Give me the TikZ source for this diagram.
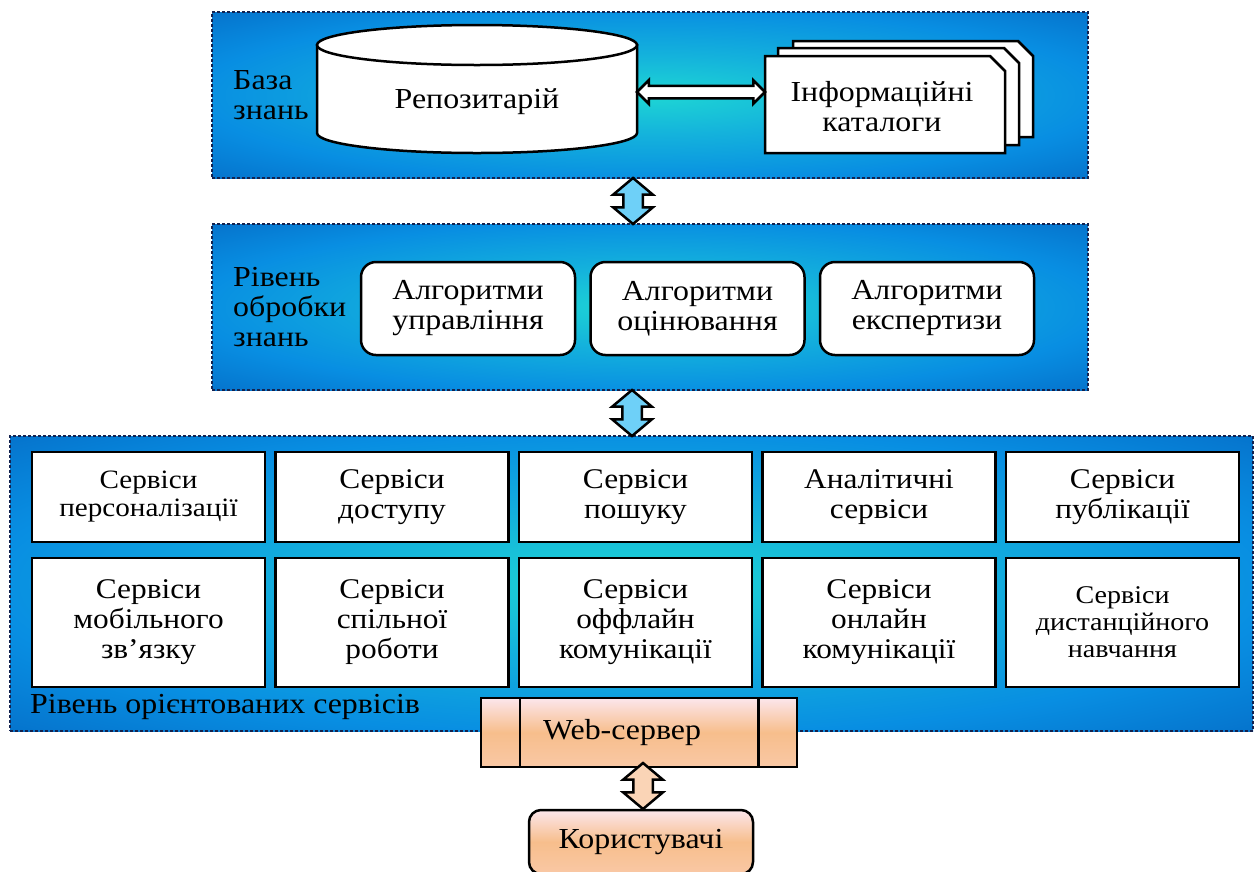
\documentclass[tikz,border=0pt]{standalone}
\usepackage{fontspec}
\setmainfont{Liberation Serif}[FakeStretch=1.1]
\usetikzlibrary{positioning, shapes.arrows, calc}

\definecolor{glowc}{RGB}{30,214,212}
\definecolor{glowcm}{RGB}{20,178,220}
\definecolor{glowm}{RGB}{8,142,226}
\definecolor{glowd}{RGB}{2,86,180}
\definecolor{framec}{RGB}{20,35,80}
\definecolor{arrowblue}{RGB}{110,208,248}
\definecolor{peachtop}{RGB}{252,230,236}
\definecolor{peachmid}{RGB}{247,190,140}
\definecolor{peachbot}{RGB}{249,200,165}
\definecolor{peacharrow}{RGB}{250,212,182}

\pgfdeclareradialshading{layerglow}{\pgfpoint{0bp}{0bp}}{color(0bp)=(glowc); color(12bp)=(glowcm); color(26bp)=(glowm); color(46bp)=(glowd); color(75bp)=(glowd)}

\begin{document}
\begin{tikzpicture}[
x=1pt, y=-1pt,
font=\fontsize{29}{30}\selectfont,
layer/.style={draw=framec, line width=1.2pt, dash pattern=on 3pt off 2pt, shade, shading=layerglow, inner sep=0pt},
algo/.style={draw, line width=2.5pt, fill=white, rounded corners=15pt, minimum width=214pt, minimum height=93pt, align=center},
serv/.style={draw, line width=2.5pt, fill=white, minimum width=233pt, inner sep=0pt, align=center, font=\fontsize{28.5}{30}\selectfont},
pageline/.style={draw, line width=2.5pt, fill=white},
link/.style={double arrow, draw, line width=2.5pt, inner xsep=0pt, inner ysep=8.5pt, double arrow head extend=10pt, double arrow tip angle=100, minimum width=37pt, minimum height=46pt, rotate=90},
peach/.style={draw, line width=2.5pt, top color=peachtop, bottom color=peachbot, middle color=peachmid}
]
\useasboundingbox (0,0) rectangle (1257,871);

% layers
\node[layer, minimum width=876pt, minimum height=166pt] (kb) at (650,95) {};
\node[layer, minimum width=876pt, minimum height=166pt] (proc) at (650,307) {};
\node[layer, minimum width=1243pt, minimum height=295pt] (srv) at (631.5,583.5) {};

\node[link, fill=arrowblue] (kbproc) at (633,201) {};
\node[link, fill=arrowblue] (procsrv) at (632,413) {};

% knowledge base
\node[anchor=west, inner sep=0pt, align=left] (kblabel) at (233,95) {База\\знань};
\draw[line width=2.5pt, fill=white] (317,45) -- (317,133) arc[start angle=180, end angle=0, x radius=160, y radius=20] -- (637,45) -- cycle;
\draw[line width=2.5pt, fill=white] (477,45) ellipse[x radius=160, y radius=20];
\node[minimum width=320pt, minimum height=110pt] (repo) at (477,102) {Репозитарій};

\draw[pageline] (793,41) -- (1018,41) -- (1033,56) -- (1033,137) -- (793,137) -- cycle;
\draw[pageline] (778,48) -- (1004,48) -- (1019,63) -- (1019,145) -- (778,145) -- cycle;
\draw[pageline] (765,56) -- (990,56) -- (1005,71) -- (1005,153) -- (765,153) -- cycle;
\node[minimum width=240pt, minimum height=97pt, align=center] (cat) at (882,107) {Інформаційні\\каталоги};

\node[double arrow, draw, fill=white, line width=2.5pt, inner xsep=0pt, inner ysep=5pt, double arrow head extend=5.5pt, minimum width=21pt, minimum height=128pt] (repocat) at (701,92) {};

% processing
\node[anchor=west, inner sep=0pt, align=left] (proclabel) at (233,307) {Рівень\\обробки\\знань};
\node[algo] (mgmt) at (468,308.5) {Алгоритми\\управління};
\node[algo, right=13pt of mgmt] (eval) {Алгоритми\\оцінювання};
\node[algo, right=13pt of eval] (expert) {Алгоритми\\експертизи};

% services
\node[serv, minimum height=90pt, font=\fontsize{26.5}{28}\selectfont] (pers) at (148.5,497) {Сервіси\\персоналізації};
\node[serv, minimum height=90pt, right=8pt of pers] (access) {Сервіси\\доступу};
\node[serv, minimum height=90pt, right=8pt of access] (search) {Сервіси\\пошуку};
\node[serv, minimum height=90pt, right=8pt of search] (analyt) {Аналітичні\\сервіси};
\node[serv, minimum height=90pt, right=8pt of analyt] (publ) {Сервіси\\публікації};

\node[serv, minimum height=129pt, below=13.5pt of pers] (mobile) {Сервіси\\мобільного\\зв’язку};
\node[serv, minimum height=129pt, below=13.5pt of access] (collab) {Сервіси\\спільної\\роботи};
\node[serv, minimum height=129pt, below=13.5pt of search] (offline) {Сервіси\\оффлайн\\комунікації};
\node[serv, minimum height=129pt, below=13.5pt of analyt] (online) {Сервіси\\онлайн\\комунікації};
\node[serv, minimum height=129pt, below=13.5pt of publ, font=\fontsize{25.5}{27}\selectfont] (remote) {Сервіси\\дистанційного\\навчання};

\node[anchor=west, inner sep=0pt] (srvlabel) at (30,707) {Рівень орієнтованих сервісів};

% web server and users
\node[peach, minimum width=316pt, minimum height=69pt] (ws) at (639,732.5) {\hspace*{-34pt}Web-сервер};
\draw[line width=2.5pt] ([xshift=40pt]ws.north west) -- ([xshift=40pt]ws.south west);
\draw[line width=2.5pt] ([xshift=-40pt]ws.north east) -- ([xshift=-40pt]ws.south east);

\node[peach, rounded corners=12pt, minimum width=224pt, minimum height=64pt] (users) at (641,842) {Користувачі};
\node[link, fill=peacharrow] (wsusers) at (643,786) {};

\end{tikzpicture}
\end{document}
